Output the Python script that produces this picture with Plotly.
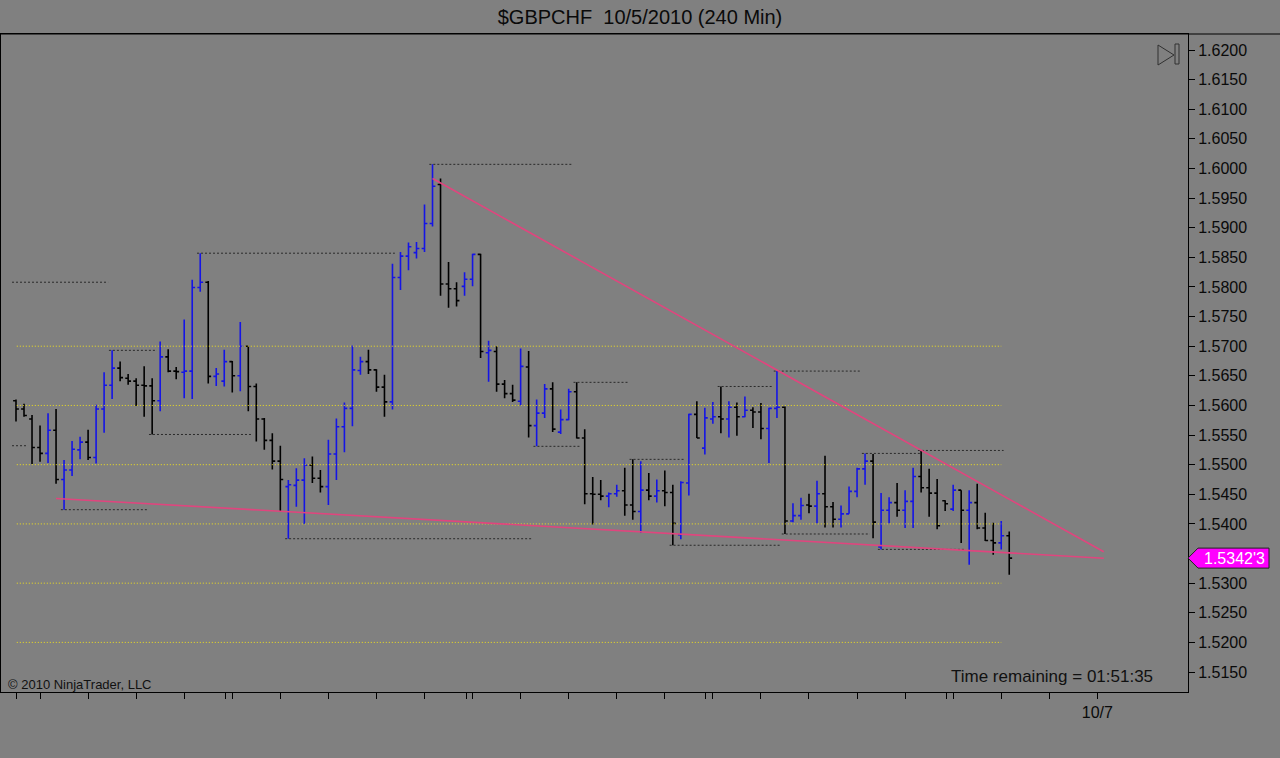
import plotly.graph_objects as go

# ---------------- data ----------------
bar_open = [1.5608, 1.5594, 1.5577, 1.5529, 1.5519, 1.5558, 1.5475, 1.5491, 1.5525, 1.5538,
            1.5512, 1.5594, 1.5634, 1.5663, 1.5646, 1.5641, 1.5634, 1.5633, 1.5608, 1.5682,
            1.5658, 1.5656, 1.5658, 1.5799, 1.5808, 1.5649, 1.5641, 1.5674, 1.5650, 1.5700,
            1.5632, 1.5577, 1.5541, 1.5506, 1.5463, 1.5465, 1.5474, 1.5499, 1.5477, 1.5463,
            1.5518, 1.5564, 1.5595, 1.5659, 1.5674, 1.5660, 1.5631, 1.5606, 1.5816, 1.5852,
            1.5858, 1.5865, 1.5907, 1.5973, 1.5805, 1.5797, 1.5801, 1.5813, 1.5855, 1.5689,
            1.5691, 1.5636, 1.5620, 1.5607, 1.5665, 1.5566, 1.5587, 1.5628, 1.5555, 1.5576,
            1.5623, 1.5545, 1.5451, 1.5450, 1.5447, 1.5451, 1.5456, 1.5432, 1.5421, 1.5457,
            1.5447, 1.5456, 1.5453, 1.5382, 1.5469, 1.5585, 1.5528, 1.5577, 1.5581, 1.5577,
            1.5597, 1.5581, 1.5592, 1.5589, 1.5561, 1.5595, 1.5597, 1.5405, 1.5414, 1.5432,
            1.5430, 1.5451, 1.5429, 1.5408, 1.5417, 1.5455, 1.5493, 1.5506, 1.5361, 1.5423,
            1.5436, 1.5423, 1.5438, 1.5480, 1.5461, 1.5452, 1.5439, 1.5425, 1.5457, 1.5423,
            1.5436, 1.5393, 1.5372, 1.5368, 1.5380]
bar_high = [1.5610, 1.5603, 1.5584, 1.5566, 1.5587, 1.5594, 1.5508, 1.5540, 1.5547, 1.5559,
            1.5601, 1.5656, 1.5693, 1.5674, 1.5653, 1.5646, 1.5666, 1.5646, 1.5708, 1.5695,
            1.5665, 1.5745, 1.5812, 1.5857, 1.5810, 1.5663, 1.5694, 1.5675, 1.5741, 1.5700,
            1.5637, 1.5579, 1.5553, 1.5532, 1.5474, 1.5494, 1.5511, 1.5514, 1.5491, 1.5542,
            1.5578, 1.5605, 1.5701, 1.5682, 1.5694, 1.5661, 1.5652, 1.5839, 1.5859, 1.5875,
            1.5876, 1.5939, 1.6007, 1.5983, 1.5842, 1.5808, 1.5825, 1.5856, 1.5856, 1.5709,
            1.5700, 1.5643, 1.5635, 1.5696, 1.5692, 1.5610, 1.5636, 1.5639, 1.5593, 1.5628,
            1.5639, 1.5560, 1.5479, 1.5474, 1.5453, 1.5466, 1.5495, 1.5509, 1.5506, 1.5486,
            1.5475, 1.5490, 1.5466, 1.5472, 1.5586, 1.5607, 1.5596, 1.5606, 1.5632, 1.5607,
            1.5605, 1.5615, 1.5597, 1.5604, 1.5596, 1.5658, 1.5598, 1.5435, 1.5444, 1.5451,
            1.5473, 1.5515, 1.5437, 1.5431, 1.5463, 1.5495, 1.5519, 1.5518, 1.5452, 1.5445,
            1.5469, 1.5457, 1.5495, 1.5524, 1.5493, 1.5476, 1.5440, 1.5466, 1.5457, 1.5457,
            1.5468, 1.5419, 1.5402, 1.5405, 1.5387]
bar_low = [1.5573, 1.5581, 1.5501, 1.5505, 1.5503, 1.5468, 1.5424, 1.5481, 1.5509, 1.5508,
           1.5502, 1.5554, 1.5611, 1.5641, 1.5635, 1.5599, 1.5581, 1.5551, 1.5590, 1.5656,
           1.5644, 1.5612, 1.5611, 1.5792, 1.5637, 1.5633, 1.5632, 1.5622, 1.5624, 1.5590,
           1.5539, 1.5525, 1.5492, 1.5422, 1.5375, 1.5429, 1.5400, 1.5469, 1.5453, 1.5432,
           1.5474, 1.5521, 1.5565, 1.5652, 1.5653, 1.5623, 1.5581, 1.5593, 1.5795, 1.5828,
           1.5848, 1.5859, 1.5902, 1.5785, 1.5765, 1.5767, 1.5785, 1.5801, 1.5680, 1.5640,
           1.5623, 1.5612, 1.5606, 1.5600, 1.5546, 1.5531, 1.5579, 1.5555, 1.5552, 1.5575,
           1.5544, 1.5433, 1.5399, 1.5440, 1.5428, 1.5446, 1.5414, 1.5407, 1.5385, 1.5440,
           1.5436, 1.5430, 1.5364, 1.5374, 1.5448, 1.5545, 1.5517, 1.5569, 1.5553, 1.5546,
           1.5549, 1.5580, 1.5562, 1.5543, 1.5503, 1.5579, 1.5383, 1.5403, 1.5407, 1.5418,
           1.5401, 1.5394, 1.5394, 1.5394, 1.5417, 1.5445, 1.5466, 1.5376, 1.5357, 1.5401,
           1.5412, 1.5393, 1.5393, 1.5453, 1.5412, 1.5391, 1.5422, 1.5422, 1.5368, 1.5331,
           1.5391, 1.5371, 1.5348, 1.5357, 1.5314]
bar_close = [1.5594, 1.5583, 1.5529, 1.5519, 1.5558, 1.5475, 1.5491, 1.5526, 1.5538, 1.5512,
             1.5594, 1.5634, 1.5663, 1.5647, 1.5641, 1.5634, 1.5633, 1.5608, 1.5682, 1.5658,
             1.5657, 1.5658, 1.5799, 1.5808, 1.5649, 1.5653, 1.5674, 1.5650, 1.5700, 1.5632,
             1.5577, 1.5541, 1.5506, 1.5475, 1.5466, 1.5474, 1.5499, 1.5477, 1.5463, 1.5518,
             1.5564, 1.5595, 1.5660, 1.5674, 1.5660, 1.5631, 1.5606, 1.5816, 1.5852, 1.5868,
             1.5865, 1.5907, 1.5970, 1.5805, 1.5797, 1.5777, 1.5813, 1.5855, 1.5691, 1.5693,
             1.5636, 1.5620, 1.5609, 1.5666, 1.5566, 1.5587, 1.5628, 1.5560, 1.5576, 1.5623,
             1.5545, 1.5451, 1.5450, 1.5447, 1.5451, 1.5456, 1.5432, 1.5421, 1.5457, 1.5447,
             1.5456, 1.5453, 1.5401, 1.5470, 1.5585, 1.5545, 1.5579, 1.5581, 1.5577, 1.5597,
             1.5581, 1.5592, 1.5589, 1.5561, 1.5595, 1.5597, 1.5405, 1.5414, 1.5431, 1.5430,
             1.5451, 1.5429, 1.5408, 1.5417, 1.5455, 1.5493, 1.5506, 1.5403, 1.5423, 1.5436,
             1.5423, 1.5438, 1.5480, 1.5461, 1.5452, 1.5397, 1.5434, 1.5457, 1.5423, 1.5436,
             1.5393, 1.5372, 1.5368, 1.5380, 1.53423]
bar_index = list(range(len(bar_close)))

# horizontal price levels (yellow dotted)
level_prices = [1.52, 1.53, 1.54, 1.55, 1.56, 1.57]
level_start_bar = 0.1
level_end_bar = 123.0

# swing lines: bar index of swing bar, side, bar position where the line ends
swing_bar = [12, 6, 17, 23, 34, 52, 65, 70, 77, 82, 88, 95, 96, 106, 113, 108]
swing_side = ["H", "L", "L", "H", "L", "H", "L", "H", "H", "L", "H", "H", "L", "H", "H", "L"]
swing_end = [17.6, 16.5, 29.5, 47.3, 64.4, 69.4, 70.4, 76.4, 83.4, 95.4, 94.4, 105.4, 106.6, 112.9, 123.3, 118.5]
# swing levels carried over from before the first visible bar
prior_swing_price = [1.5808, 1.5532]
prior_swing_end = [11.5, 1.5]

# trend lines (bar position, price)
trend_upper_x = [52.0, 135.8]
trend_upper_y = [1.5983, 1.5353]
trend_lower_x = [5.0, 135.8]
trend_lower_y = [1.5443, 1.5342]

# price axis ticks
price_ticks = [round(1.515 + 0.005 * k, 4) for k in range(22)]

# x-axis ticks (bar positions), one label
tick_major = [3 + 6 * k for k in range(23)]
tick_extra = [0, 26.2, 56.2, 86.05, 116.2]
tick_label_pos = 135
tick_label_text = "10/7"

title_text = "$GBPCHF\u00a0\u00a010/5/2010 (240 Min)"
copyright_text = "\u00a9 2010 NinjaTrader, LLC"
time_text = "Time remaining = 01:51:35"

# ---------------- layout geometry ----------------
W, H = 1280, 758
ML, MR, MT, MB = 1, 92, 34, 66
PW, PH = W - ML - MR, H - MT - MB
X_RANGE = [-1.873, -1.873 + PW / 8.01]
Y_RANGE = [1.62 - (PH - 16) / 5924.0, 1.62 + 16 / 5924.0]
FONT = "Arial, Liberation Sans, sans-serif"
BG = "#808080"


def px_x(px):
    return (px - ML) / PW


def px_y(py):
    return (MT + PH - py) / PH


def price_to_paper(p):
    return (p - Y_RANGE[0]) / (Y_RANGE[1] - Y_RANGE[0])


fig = go.Figure()

# yellow levels
lx, ly = [], []
for lv in level_prices:
    lx += [level_start_bar, level_end_bar, None]
    ly += [lv, lv, None]
fig.add_trace(go.Scatter(x=lx, y=ly, mode="lines", hoverinfo="skip",
                         line=dict(color="#F2E21A", width=1, dash="1px,2px")))

# swing lines
sx, sy = [], []
for p, e in zip(prior_swing_price, prior_swing_end):
    sx += [-0.5, e, None]
    sy += [p, p, None]
for b, s, e in zip(swing_bar, swing_side, swing_end):
    p = bar_high[b] if s == "H" else bar_low[b]
    sx += [b - 0.4, e, None]
    sy += [p, p, None]
fig.add_trace(go.Scatter(x=sx, y=sy, mode="lines", hoverinfo="skip",
                         line=dict(color="#2a2a2a", width=1, dash="2px,2px")))

# bars
fig.add_trace(go.Ohlc(x=bar_index, open=bar_open, high=bar_high, low=bar_low, close=bar_close,
                      increasing=dict(line=dict(color="#1414E6", width=1.6)),
                      decreasing=dict(line=dict(color="#000000", width=1.6)),
                      tickwidth=0.36, hoverinfo="skip"))

# trend lines
for tx, ty in [(trend_upper_x, trend_upper_y), (trend_lower_x, trend_lower_y)]:
    fig.add_trace(go.Scatter(x=tx, y=ty, mode="lines", hoverinfo="skip",
                             line=dict(color="#E0457E", width=1.6)))

last = bar_close[-1]

# x ticks
tickvals = tick_major + tick_extra
ticktext = [tick_label_text if v == tick_label_pos else "" for v in tickvals]
# price labels hidden behind the last-price marker are not shown
yticks = [t for t in price_ticks if abs(t - last) > 0.002]

fig.update_layout(
    width=W, height=H,
    margin=dict(l=ML, r=MR, t=MT, b=MB),
    paper_bgcolor=BG, plot_bgcolor=BG,
    showlegend=False, hovermode=False,
    font=dict(family=FONT, color="#000000", size=16),
    title=dict(text=title_text, x=0.5, xanchor="center", xref="container",
               y=1 - 17 / H, yanchor="middle", yref="container",
               font=dict(family=FONT, size=20, color="#0a0a0a")),
    xaxis=dict(range=X_RANGE, showgrid=False, zeroline=False,
               showline=True, linecolor="#000000", linewidth=1, mirror=True,
               ticks="outside", ticklen=6, tickcolor="#000000", tickwidth=1,
               tickmode="array", tickvals=tickvals, ticktext=ticktext,
               tickfont=dict(family=FONT, size=16, color="#0a0a0a"),
               rangeslider=dict(visible=False), fixedrange=True),
    yaxis=dict(range=Y_RANGE, side="right", showgrid=False, zeroline=False,
               showline=True, linecolor="#000000", linewidth=1, mirror=True,
               ticks="outside", ticklen=6, tickcolor="#000000", tickwidth=1,
               tickmode="array", tickvals=yticks, ticktext=[f"{t:.4f}" for t in yticks],
               tickfont=dict(family=FONT, size=16, color="#0a0a0a"), fixedrange=True),
)

# top border line continuing over the price axis
fig.add_shape(type="line", xref="paper", yref="paper", x0=0, x1=px_x(W), y0=1, y1=1,
              line=dict(color="#000000", width=1))

# "scroll to end" icon
fig.add_shape(type="path", xref="paper", yref="paper",
              path=f"M {px_x(1158)},{px_y(45)} L {px_x(1174)},{px_y(55)} L {px_x(1158)},{px_y(65)} Z",
              line=dict(color="#303030", width=1))
fig.add_shape(type="rect", xref="paper", yref="paper",
              x0=px_x(1175), x1=px_x(1179), y0=px_y(44), y1=px_y(64),
              line=dict(color="#303030", width=1))

# last price marker
ly_p = price_to_paper(last)
half = 10 / PH
fig.add_shape(type="path", xref="paper", yref="paper",
              path=(f"M {px_x(1188)},{ly_p} L {px_x(1198)},{ly_p + half} L {px_x(1269)},{ly_p + half} "
                    f"L {px_x(1269)},{ly_p - half} L {px_x(1198)},{ly_p - half} Z"),
              fillcolor="#FF00FF", line=dict(color="#202020", width=1))
s = f"{last:.5f}"
fig.add_annotation(xref="paper", yref="paper", x=px_x(1234), y=ly_p, text=s[:-1] + "'" + s[-1],
                   showarrow=False, xanchor="center", yanchor="middle",
                   font=dict(family=FONT, size=16, color="#FFFFFF"))

# texts
fig.add_annotation(xref="paper", yref="paper", x=px_x(6), y=px_y(684), text=copyright_text,
                   showarrow=False, xanchor="left", yanchor="middle",
                   font=dict(family=FONT, size=13, color="#111111"))
fig.add_annotation(xref="paper", yref="paper", x=px_x(1155), y=px_y(676), text=time_text,
                   showarrow=False, xanchor="right", yanchor="middle",
                   font=dict(family=FONT, size=17, color="#111111"))

fig.write_html("out.html", config={"displayModeBar": False},
               post_script="document.body.style.margin='0';document.body.style.background='#808080';"
                           "document.body.style.overflow='hidden';")
